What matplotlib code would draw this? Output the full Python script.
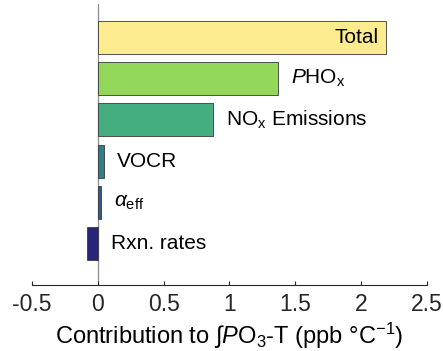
import matplotlib
matplotlib.use("Agg")
import matplotlib.pyplot as plt

plt.rcParams["font.family"] = ["Liberation Sans", "DejaVu Sans"]
plt.rcParams["mathtext.fontset"] = "custom"
plt.rcParams["mathtext.rm"] = "Liberation Sans"
plt.rcParams["mathtext.it"] = "Liberation Sans:italic"

# contributions, bottom row first
labels = ["Rxn. rates", r"$\alpha_{\mathrm{eff}}$", "VOCR",
          r"NO$_{\mathrm{x}}$ Emissions", r"$\mathit{P}$HO$_{\mathrm{x}}$", "Total"]
values = [-0.08, 0.025, 0.045, 0.875, 1.37, 2.19]
colors = ["#28247a", "#2f5a96", "#2d7f8c", "#45ae80", "#93d75a", "#fdeb8f"]
xticks = [-0.5, 0, 0.5, 1, 1.5, 2, 2.5]

fig = plt.figure(figsize=(4.43, 3.51), dpi=100)
ax = fig.add_axes([0.0722, 0.188, 0.8917, 0.800])

pos = list(range(1, len(values) + 1))
ax.barh(pos, values, height=0.8, color=colors, edgecolor="#3a3a3a", linewidth=0.6, zorder=2)
ax.axvline(0, color="#8c8c8c", linewidth=0.9, zorder=1)

for y, v, lab in zip(pos, values, labels):
    if lab == "Total":
        ax.text(v - 0.06, y, lab, ha="right", va="center", fontsize=15)
    else:
        ax.text(max(v, 0) + 0.1, y, lab, ha="left", va="center", fontsize=15)

ax.set_xlim(-0.5, 2.5)
ax.set_ylim(0, 6.8)
ax.set_xticks(xticks)
ax.set_xticklabels([f"{t:g}" for t in xticks], fontsize=16.5)
ax.set_yticks([])
ax.tick_params(axis="x", direction="in", length=3, width=0.8, pad=6, colors="#262626")
for side in ["top", "right", "left"]:
    ax.spines[side].set_visible(False)
ax.spines["bottom"].set_color("#262626")
ax.spines["bottom"].set_linewidth(0.8)

ax.set_xlabel("Contribution to ∫$\\mathit{P}$O$_3$-T (ppb °C$^{-1}$)", fontsize=17, labelpad=3)

fig.savefig("out.png", dpi=100)
